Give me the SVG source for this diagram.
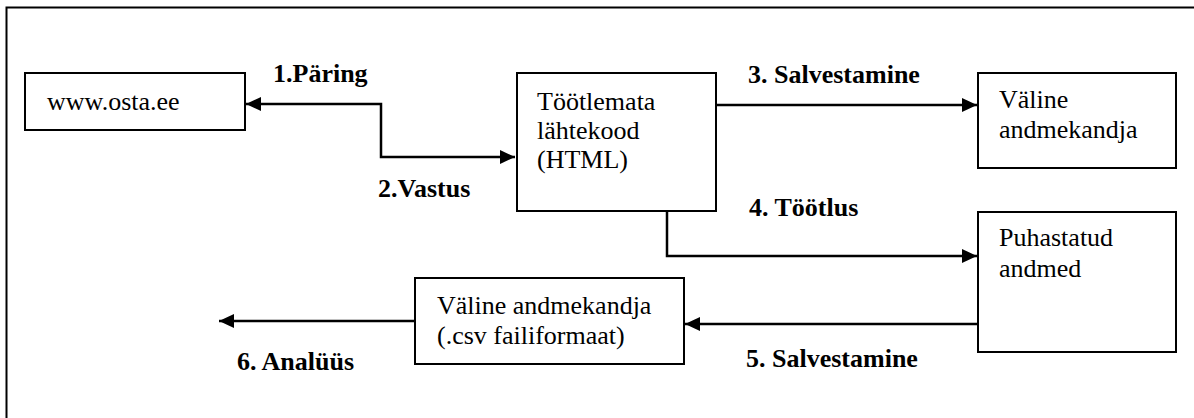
<svg xmlns="http://www.w3.org/2000/svg" width="1194" height="418" viewBox="0 0 1194 418">
  <style>
    .box { fill: #ffffff; stroke: #000000; stroke-width: 2; }
    .txt { font-family: 'Liberation Serif', 'Tinos', 'Times New Roman', 'DejaVu Serif', serif; font-size: 26px; fill: #000000; }
    .lbl { font-family: 'Liberation Serif', 'Tinos', 'Times New Roman', 'DejaVu Serif', serif; font-size: 26px; font-weight: bold; fill: #000000; }
    .conn { fill: none; stroke: #000000; stroke-width: 2.5; }
    .frame { fill: none; stroke: #000000; stroke-width: 2; }
  </style>
  <defs>
    <marker id="arrow" markerUnits="userSpaceOnUse" markerWidth="16" markerHeight="16" refX="15" refY="8" orient="auto-start-reverse">
      <path d="M0,1 L15,8 L0,15 z" fill="#000000"/>
    </marker>
  </defs>
  <rect width="1194" height="418" fill="#ffffff"/>
  <path class="frame" d="M6.5,418 L6.5,7.5 L1194,7.5"/>

  <g id="node-osta" font-family="Liberation Serif, serif">
    <rect class="box" x="25" y="73" width="220" height="57"/>
    <text class="txt" x="47" y="110">www.osta.ee</text>
  </g>
  <g id="node-toorandmed" font-family="Liberation Serif, serif">
    <rect class="box" x="517" y="73" width="199" height="138"/>
    <text class="txt" x="537" y="110">Töötlemata</text>
    <text class="txt" x="537" y="139">lähtekood</text>
    <text class="txt" x="537" y="168">(HTML)</text>
  </g>
  <g id="node-valine1" font-family="Liberation Serif, serif">
    <rect class="box" x="978" y="73" width="198" height="95"/>
    <text class="txt" x="999" y="108">Väline</text>
    <text class="txt" x="999" y="138">andmekandja</text>
  </g>
  <g id="node-puhastatud" font-family="Liberation Serif, serif">
    <rect class="box" x="978" y="212" width="198" height="140"/>
    <text class="txt" x="999" y="246">Puhastatud</text>
    <text class="txt" x="999" y="277">andmed</text>
  </g>
  <g id="node-csv" font-family="Liberation Serif, serif">
    <rect class="box" x="415" y="278" width="269" height="86"/>
    <text class="txt" x="437" y="314">Väline andmekandja</text>
    <text class="txt" x="437" y="344">(.csv failiformaat)</text>
  </g>

  <g id="connectors" font-family="Liberation Serif, serif">
    <path class="conn" d="M515,157 L381,157 L381,104 L246,104" marker-start="url(#arrow)" marker-end="url(#arrow)"/>
    <path class="conn" d="M716,105 L977,105" marker-end="url(#arrow)"/>
    <path class="conn" d="M667,211 L667,256 L977,256" marker-end="url(#arrow)"/>
    <path class="conn" d="M978,324 L685,324" marker-end="url(#arrow)"/>
    <path class="conn" d="M415,321 L219,321" marker-end="url(#arrow)"/>
    <text class="lbl" x="273" y="82">1.Päring</text>
    <text class="lbl" x="378" y="197">2.Vastus</text>
    <text class="lbl" x="748" y="83">3. Salvestamine</text>
    <text class="lbl" x="749" y="216">4. Töötlus</text>
    <text class="lbl" x="746" y="367">5. Salvestamine</text>
    <text class="lbl" x="237" y="370">6. Analüüs</text>
  </g>
</svg>
